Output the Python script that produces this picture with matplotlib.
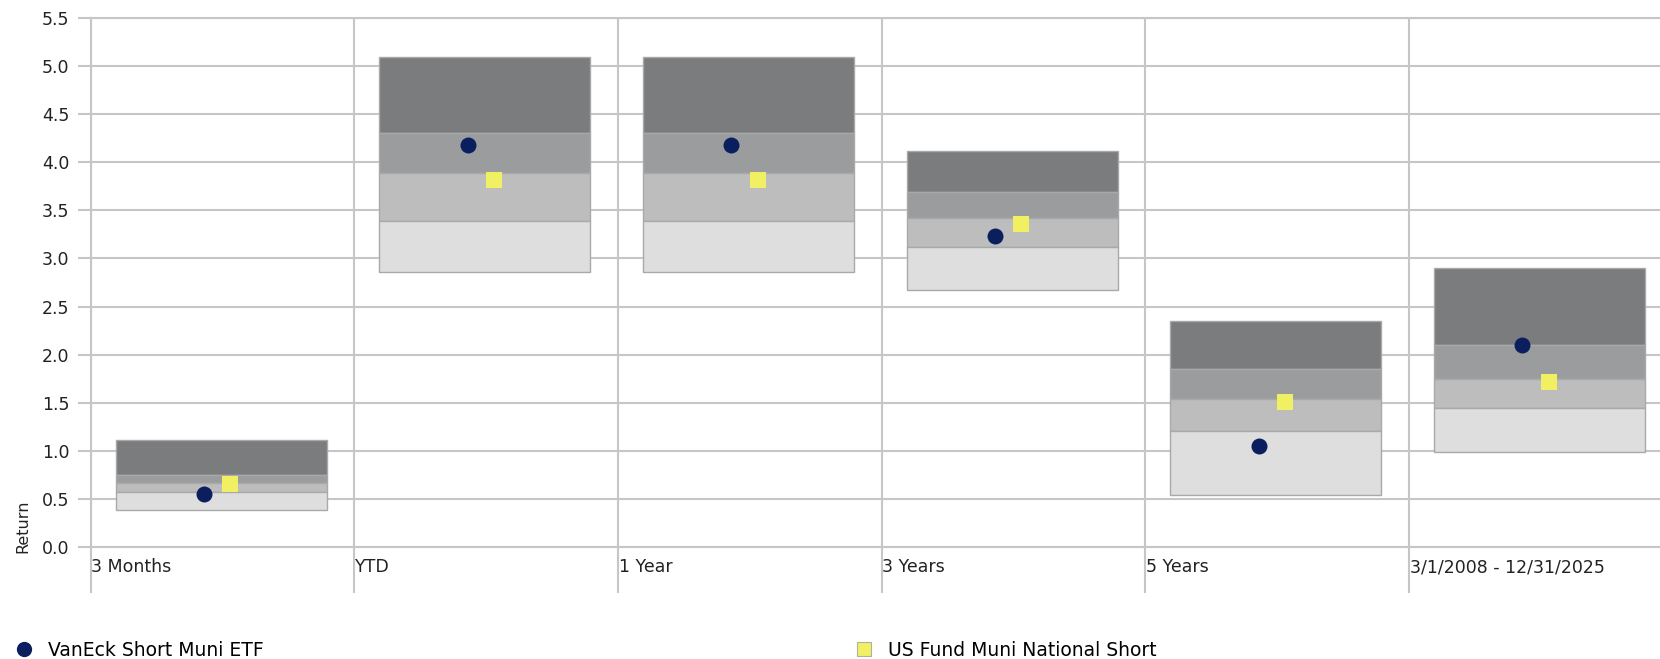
import matplotlib
matplotlib.use("Agg")
import matplotlib.pyplot as plt
from matplotlib.lines import Line2D
from matplotlib.transforms import blended_transform_factory

# quartile bands per period (top of box down to bottom)
categories = ["3 Months", "YTD", "1 Year", "3 Years", "5 Years", "3/1/2008 - 12/31/2025"]
band_top = [1.11, 5.09, 5.09, 4.12, 2.35, 2.90]
band_q1 = [0.75, 4.30, 4.30, 3.69, 1.85, 2.10]
band_mid = [0.67, 3.89, 3.89, 3.42, 1.54, 1.75]
band_q3 = [0.57, 3.39, 3.39, 3.12, 1.21, 1.45]
band_bottom = [0.38, 2.86, 2.86, 2.67, 0.54, 0.99]

fund_returns = [0.55, 4.18, 4.18, 3.23, 1.05, 2.10]
peer_returns = [0.66, 3.82, 3.82, 3.36, 1.51, 1.72]

fund_name = "VanEck Short Muni ETF"
peer_name = "US Fund Muni National Short"
yticks = [0.0, 0.5, 1.0, 1.5, 2.0, 2.5, 3.0, 3.5, 4.0, 4.5, 5.0, 5.5]

band_colors = ["#7b7c7e", "#9b9c9e", "#bdbdbd", "#dedede"]
grid_color = "#c6c6c6"
navy = "#0b1f5e"
yellow = "#f0f062"

W, H = 1660, 659
fig = plt.figure(figsize=(W / 100, H / 100), dpi=100)
ax = fig.add_axes([90.7 / W, 112 / H, 1582 / W, 529 / H])

n = len(categories)
xs = [i + 0.5 for i in range(n)]
bands = [band_top, band_q1, band_mid, band_q3, band_bottom]
for k in range(4):
    hi, lo = bands[k], bands[k + 1]
    ax.bar([x - 0.005 for x in xs], [h - l for h, l in zip(hi, lo)], bottom=lo,
           width=0.8, color=band_colors[k], edgecolor="#a9a9a9", linewidth=1.0, zorder=2)

ax.plot([x - 0.07 for x in xs], fund_returns, "o", color=navy, markersize=11.5,
        markeredgewidth=0, zorder=4)
ax.plot([x + 0.03 for x in xs], peer_returns, "s", color=yellow, markersize=12,
        markeredgewidth=0, zorder=4)

ax.set_xlim(0, n)
ax.set_ylim(0, 5.5)
ax.set_yticks(yticks)
ax.set_yticklabels([f"{v:.1f}" for v in yticks])
ax.set_xticks(range(n))
ax.set_xticklabels([])
ax.grid(True, color=grid_color, linewidth=1.5, zorder=0)
ax.set_axisbelow(True)
for side, sp in ax.spines.items():
    sp.set_color(grid_color)
    sp.set_linewidth(1.5)
ax.spines["right"].set_visible(False)
ax.tick_params(axis="y", length=9.5, width=1.5, color=grid_color, pad=6,
               labelsize=12.5, labelcolor="#222222")
ax.tick_params(axis="x", length=33, width=1.5, color=grid_color)

trans = blended_transform_factory(ax.transData, ax.transAxes)
for i, name in enumerate(categories):
    ax.text(i + 0.002, -0.038, name, transform=trans, ha="left", va="center",
            fontsize=12.5, color="#222222")

fig.text(23 / W, 1 - 526 / H, "Return", rotation=90, ha="center", va="center",
         fontsize=11.5, color="#222222")

h1 = Line2D([], [], marker="o", linestyle="none", color=navy, markersize=11,
            markeredgewidth=0)
h2 = Line2D([], [], marker="s", linestyle="none", color=yellow, markersize=10,
            markeredgecolor="#b0b0a0", markeredgewidth=0.8)
fig.legend(handles=[h1], labels=[fund_name], loc="center left",
           bbox_to_anchor=(-2 / W, 1 - 650 / H), frameon=False, fontsize=13.5,
           handlelength=1.0, handletextpad=0.75)
fig.legend(handles=[h2], labels=[peer_name], loc="center left",
           bbox_to_anchor=(838 / W, 1 - 650 / H), frameon=False, fontsize=13.5,
           handlelength=1.0, handletextpad=0.75)

fig.savefig("out.png", dpi=100)
